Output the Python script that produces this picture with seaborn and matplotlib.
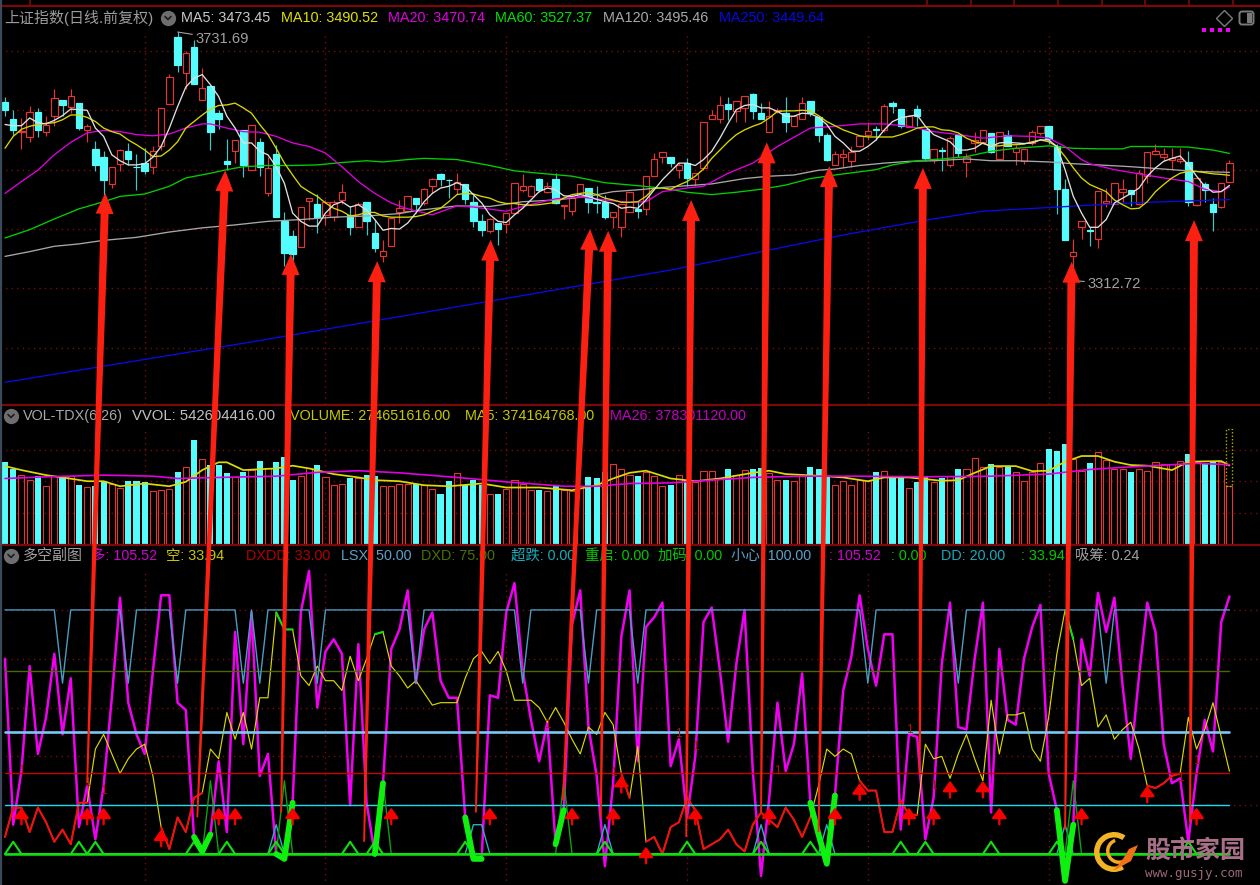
import numpy as np
import seaborn as sns
import matplotlib.pyplot as plt
from matplotlib.patches import Polygon, Wedge, Rectangle, FancyBboxPatch
from matplotlib.lines import Line2D
from matplotlib.transforms import IdentityTransform

# candles, oldest first
rise = ("ccrrcrrcrc" "rccrrcccrr" "rcrcrcccrc" "rcrcccrrcr" "rrcrccrrrr"
        "crrccrcccr" "crrrrcrcrr" "rcccrrrcrr" "rcrcrrrrcr" "rccrrcrrcc"
        "crrrrrcrcc" "rccrcrcrrr" "crcrrrrccc" "rrcrrrrcrr" "rrrrcrccrr")
body_top = [3614,3585,3565,3597,3597,3576,3620,3617,3624,3612,3574,3535,3522,3504,3533,3532,3505,3511,3532,3604,
            3656,3723,3696,3707,3637,3640,3595,3515,3550,3567,3576,3547,3503,3526,3414,3389,3437,3452,3443,3446,
            3445,3462,3424,3443,3446,3393,3363,3418,3435,3456,3452,3467,3484,3493,3483,3480,3476,3446,3413,3417,
            3410,3427,3477,3473,3473,3484,3472,3484,3441,3452,3476,3469,3446,3446,3428,3443,3462,3434,3490,3518,
            3530,3521,3507,3511,3495,3580,3592,3609,3610,3615,3624,3627,3595,3591,3601,3596,3590,3612,3615,3588,
            3559,3526,3526,3529,3557,3565,3569,3608,3612,3602,3591,3602,3568,3535,3533,3553,3558,3522,3550,3566,
            3562,3563,3559,3537,3535,3563,3574,3573,3539,3467,3361,3413,3399,3464,3448,3477,3467,3465,3494,3530,
            3532,3526,3519,3518,3513,3486,3476,3442,3477,3511]
body_bot = [3600,3566,3564,3555,3566,3563,3590,3609,3605,3570,3567,3507,3483,3476,3510,3518,3504,3497,3504,3539,
            3611,3676,3663,3645,3618,3564,3585,3510,3531,3507,3500,3505,3460,3421,3359,3358,3370,3447,3421,3424,
            3421,3449,3404,3404,3413,3368,3354,3372,3428,3431,3443,3444,3472,3485,3482,3467,3450,3413,3399,3396,
            3400,3409,3427,3465,3455,3465,3462,3444,3438,3430,3455,3446,3444,3420,3421,3404,3428,3431,3434,3489,
            3521,3512,3500,3486,3484,3503,3586,3586,3602,3598,3604,3598,3586,3564,3598,3581,3574,3585,3595,3559,
            3517,3507,3521,3514,3539,3558,3567,3567,3608,3574,3572,3590,3519,3517,3531,3507,3528,3513,3545,3546,
            3529,3518,3540,3529,3515,3545,3562,3551,3468,3382,3354,3403,3397,3384,3444,3443,3462,3459,3443,3489,
            3527,3522,3517,3514,3446,3440,3465,3428,3437,3480]
high = [3622,3600,3587,3608,3604,3590,3636,3617,3636,3612,3577,3549,3532,3505,3535,3545,3527,3536,3540,3604,
        3661,3732,3699,3718,3671,3643,3601,3551,3550,3567,3576,3553,3522,3542,3429,3399,3437,3452,3459,3449,
        3449,3476,3439,3445,3446,3416,3381,3418,3449,3456,3452,3469,3486,3495,3484,3494,3476,3458,3426,3418,
        3410,3427,3477,3493,3475,3486,3480,3495,3441,3458,3476,3469,3472,3458,3428,3443,3462,3448,3490,3528,
        3530,3521,3511,3519,3495,3580,3601,3624,3622,3615,3624,3629,3612,3615,3604,3622,3592,3622,3615,3588,
        3562,3532,3535,3539,3557,3581,3573,3611,3615,3602,3592,3609,3568,3535,3538,3556,3559,3528,3564,3566,
        3562,3563,3566,3542,3535,3567,3574,3573,3544,3484,3383,3413,3404,3464,3469,3477,3484,3465,3500,3530,
        3544,3536,3536,3536,3532,3486,3480,3452,3477,3517]
low = [3591,3559,3535,3546,3555,3557,3574,3590,3595,3566,3547,3497,3458,3469,3497,3508,3466,3493,3493,3533,
       3611,3665,3636,3645,3618,3533,3568,3500,3512,3487,3500,3489,3456,3421,3337,3348,3370,3416,3394,3407,
       3413,3443,3390,3404,3390,3362,3345,3372,3411,3430,3427,3441,3460,3472,3452,3459,3443,3403,3388,3393,
       3373,3394,3427,3463,3455,3462,3460,3443,3417,3424,3455,3427,3427,3417,3402,3386,3428,3418,3424,3489,
       3512,3505,3486,3472,3472,3500,3586,3579,3584,3581,3581,3585,3586,3563,3595,3564,3573,3585,3590,3547,
       3514,3507,3503,3505,3538,3550,3550,3564,3596,3570,3572,3574,3515,3511,3497,3505,3522,3487,3529,3545,
       3528,3517,3539,3507,3510,3542,3559,3544,3426,3382,3313,3383,3371,3368,3437,3443,3446,3439,3441,3478,
       3525,3514,3501,3511,3438,3438,3446,3396,3436,3480]

ma5 = [3576,3574,3574,3587,3579,3577,3583,3591,3602,3601,3600,3570,3556,3525,3515,3508,3508,3510,3521,3539,
       3570,3606,3639,3654,3660,3643,3623,3590,3570,3545,3545,3531,3525,3505,3477,3427,3413,3405,3405,3427,
       3441,3446,3437,3441,3432,3416,3398,3401,3400,3410,3427,3446,3460,3469,3472,3478,3472,3458,3444,3424,
       3413,3411,3424,3435,3449,3463,3469,3466,3456,3455,3458,3455,3450,3446,3443,3435,3437,3435,3449,3466,
       3483,3497,3511,3511,3507,3517,3531,3553,3578,3601,3608,3610,3604,3604,3598,3590,3590,3595,3594,3588,
       3576,3556,3545,3531,3531,3539,3550,3567,3581,3587,3590,3592,3573,3559,3553,3547,3533,3533,3536,3545,
       3539,3545,3546,3545,3544,3545,3550,3550,3539,3500,3455,3427,3403,3403,3416,3444,3452,3460,3469,3489,
       3503,3514,3519,3523,3508,3489,3472,3462,3463,3473.45]
ma10 = [3536,3556,3568,3573,3576,3578,3579,3584,3592,3592,3588,3581,3570,3564,3560,3550,3542,3533,3522,3523,
        3533,3547,3570,3581,3592,3602,3608,3609,3612,3604,3595,3576,3559,3536,3511,3491,3472,3463,3455,3444,
        3435,3430,3422,3424,3428,3428,3422,3420,3420,3420,3421,3424,3430,3435,3446,3458,3460,3459,3455,3452,
        3446,3443,3443,3441,3440,3441,3443,3445,3452,3458,3460,3462,3458,3452,3449,3445,3445,3446,3455,3469,
        3469,3467,3474,3480,3489,3501,3519,3533,3547,3559,3567,3573,3578,3587,3598,3599,3599,3600,3599,3591,
        3581,3574,3567,3562,3557,3555,3555,3555,3555,3559,3564,3570,3572,3572,3567,3566,3562,3553,3547,3544,
        3540,3540,3542,3542,3543,3547,3550,3547,3539,3522,3503,3486,3475,3469,3463,3449,3441,3434,3435,3446,
        3463,3475,3486,3494,3497,3497,3495,3493,3492,3490.52]
ma20_idx = [0,2,4,6,8,10,12,14,16,18,20,22,24,25,27,29,31,33,35,37,39,41,43,45,47,49,52,55,57,61,63,67,70,73,76,78,
            80,83,85,88,91,94,98,101,104,107,110,113,116,119,122,125,127,129,131,132,135,138,141,144,146,148,149]
ma20 = [3460,3480,3499,3525,3546,3562,3566,3564,3559,3557,3560,3570,3577,3577,3570,3564,3563,3556,3545,3539,3528,
        3505,3480,3460,3444,3434,3424,3439,3437,3430,3438,3451,3454,3449,3445,3446,3463,3469,3472,3494,3511,3539,
        3570,3573,3577,3577,3573,3564,3559,3553,3557,3556,3553,3539,3517,3510,3500,3493,3486,3480,3467,3463,3470.74]
ma60_idx = [0,3,6,9,12,14,17,20,22,25,27,29,32,35,38,41,44,46,49,51,55,59,62,65,69,73,77,80,83,86,89,92,95,98,101,
            106,108,111,114,117,120,123,127,130,133,136,137,140,144,147,149]
ma60 = [3385,3399,3417,3434,3446,3455,3459,3472,3486,3494,3500,3505,3507,3507,3508,3512,3515,3513,3517,3519,3517,
        3507,3498,3494,3489,3478,3473,3469,3462,3458,3462,3467,3474,3485,3491,3500,3508,3515,3518,3522,3531,3536,
        3540,3536,3535,3535,3539,3539,3538,3533,3527.37]
ma120_idx = [0,3,6,9,12,16,20,24,28,32,36,40,44,48,50,55,59,63,67,71,74,77,80,83,86,90,93,96,99,101,104,107,110,113,
             117,120,123,127,130,133,137,141,145,149]
ma120 = [3354,3362,3371,3375,3381,3386,3395,3402,3407,3413,3416,3420,3422,3426,3431,3439,3438,3446,3449,3455,3463,
         3466,3470,3473,3476,3485,3489,3491,3499,3501,3507,3511,3514,3515,3518,3515,3515,3513,3510,3508,3505,3501,
         3497,3495.46]
ma250_idx = [0,30,60,81,102,112,119,128,137,149]
ma250 = [3142,3210,3281,3331,3390,3415,3430,3437,3444,3449.64]
grid_prices = [3200,3300,3400,3500,3600,3700]
month_idx = [17,39,61,83,105,127]

# volume in millions
volume = [392,357,330,307,323,275,323,323,323,283,272,277,299,285,269,301,301,293,253,259,264,344,365,493,403,376,374,
          336,317,344,352,397,360,392,416,307,323,360,374,317,282,288,314,315,331,325,275,275,288,288,288,280,264,240,
          301,336,280,307,280,240,240,264,304,288,259,259,253,275,259,253,269,320,312,344,381,355,328,323,344,323,275,
          282,330,304,296,349,349,312,355,328,352,355,360,339,307,307,301,323,368,355,323,282,301,282,307,299,344,349,
          317,314,269,296,320,296,314,323,355,355,408,365,379,365,368,341,299,341,384,451,445,475,403,349,384,437,400,
          355,355,344,355,349,389,381,381,395,427,392,381,392,392,275]
vol_ma5_idx = [0,2,5,7,10,12,14,17,20,22,24,26,27,29,33,35,37,40,43,45,48,51,54,58,61,65,69,72,74,76,78,81,84,87,91,93,
               95,99,102,105,107,110,114,116,118,120,123,125,127,129,131,133,135,137,139,142,144,148,149]
vol_ma5 = [371,352,328,317,299,299,275,288,275,296,352,389,389,352,360,373,360,333,317,304,299,280,275,288,269,269,256,
           280,312,339,349,312,299,312,339,349,333,325,317,299,317,317,301,304,339,371,371,347,349,392,419,419,392,376,
           373,352,392,395,374]
vol_ma26_idx = [0,5,12,18,21,26,33,38,43,48,55,61,68,72,76,81,91,97,104,112,120,127,132,136,145,149]
vol_ma26 = [312,320,328,323,312,317,323,341,349,339,317,296,275,275,288,291,317,323,323,320,323,333,355,365,384,378]
vol_grid = [150,300,450]
vol_forecast_height = 272

# lower panel
duo = [80,12,34,77,41,56,82,49,72,11,28,6,28,64,105,62,49,41,75,106,106,62,59,7,1,8,38,9,91,45,99,32,41,0,-2,21,99,116,
       60,83,88,82,20,86,21,0,29,84,92,108,70,92,99,71,64,64,15,-2,-2,65,64,99,111,75,55,38,54,4,18,94,108,52,32,-5,29,
       89,108,38,93,97,103,36,47,15,40,95,101,75,46,78,100,34,-9,23,62,34,45,74,21,8,-4,24,67,81,106,84,69,90,90,10,49,
       48,6,23,78,103,52,51,80,103,17,84,55,53,80,93,102,33,18,-11,12,88,73,107,91,105,69,39,73,103,91,45,29,31,5,33,55,
       42,95,105.52]
kong = [7,19,19,9,19,13,5,10,4,21,21,43,49,41,33,39,43,45,32,11,2,15,9,23,25,43,39,58,47,58,43,64,64,99,92,92,73,69,77,
        71,71,67,81,71,80,90,91,77,73,68,71,66,61,62,62,62,72,80,83,78,83,75,63,63,63,60,54,60,54,47,41,52,49,58,53,33,
        23,44,5,7,0,11,13,23,18,2,4,6,10,4,1,12,17,14,11,19,14,7,15,28,43,40,43,41,30,26,26,9,9,22,16,16,45,39,40,31,41,
        49,39,30,63,41,57,57,58,43,38,56,82,100,88,69,72,52,57,47,51,54,43,28,27,29,32,33,56,43,51,62,48,33.94]
kong_red = [(0,10),(19,24),(75,76),(78,98),(104,111),(139,143)]
kong_green = [(33,35),(45,46),(129,130)]
duo_green = [(23,25),(33,35),(45,46),(56,58),(67,68),(98,101),(128,130)]
xiaoxin_dips = [7,15,21,29,31,38,50,63,71,77,105,116,134]
xiaoxin_top, xiaoxin_low = 100, 70
chaodie_idx = [33,57,58,73,92,100,129]
chaodie_val = 12
dd_small = [1,9,11,23,27,33,42,45,56,73,83,92,98,109,112,120,128,144]
dd_small_val = 5
dd_tall = [25,34,46,68,130]
dd_tall_val = 30
levels = {'dxd': 75, 'lsx': 50, 'dxdd': 33, 'dd': 20}
sub_grid = [20,40,60,80,100]
arrow_idx = [2,10,12,19,26,28,35,47,59,69,74,75,78,84,93,101,104,110,113,115,119,121,131,139,145]
arrow_val = [19,19,19,10,19,19,19,19,19,19,19,32,3,19,19,19,29,19,19,30,30,19,19,28,19]
one_idx = [2,10,12,66,74,82,84,94,110,113,143,145]
one_val = [34,29,26,53,33,49,44,34,51,28,31,38]

# hand drawn arrows: tip on the candles, tail on the lower panel
hand_tip_idx = [12.2,26.8,34.8,45.3,59.1,71.2,73.4,83.5,92.7,100.3,111.7,129.8,144.7]
hand_tip_price = [3461,3499,3358,3346,3382,3400,3397,3449,3546,3506,3503,3345,3415]
hand_tail_idx = [10,23.4,33.6,43.7,57.3,67.9,72.5,82.9,92,99,111.3,129,144.2]
hand_tail_val = [29,15,17,5,17,22,15,7,17,9,33,10,13]

BG = '#000000'
RED = '#e43434'
CYAN = '#54fcfc'
GRID = '#7a0c0c'
SEP = '#7c0808'
W, H = 1260, 885

sns.set_theme(style='dark', rc={'figure.facecolor': BG, 'axes.facecolor': BG, 'savefig.facecolor': BG})
plt.rcParams['font.family'] = ['Liberation Sans', 'Noto Sans CJK SC', 'DejaVu Sans']

fig = plt.figure(figsize=(W / 100, H / 100), dpi=100)


def panel(top, bottom):
    ax = fig.add_axes([0, 1 - bottom / H, 1, (bottom - top) / H])
    ax.set_xticks([])
    ax.set_yticks([])
    for s in ax.spines.values():
        s.set_visible(False)
    return ax


def line(ax, xs, ys, color, lw, z=3):
    sns.lineplot(x=list(xs), y=list(ys), color=color, linewidth=lw, ax=ax, estimator=None,
                 sort=False, legend=False, zorder=z)


def dotted_grid(ax, ys, x_top, x_bottom):
    for y in ys:
        ax.axhline(y, color=GRID, lw=1, ls=(0, (1, 3)), zorder=1)
    ax.vlines(month_idx, x_bottom, x_top, color=GRID, lw=1, ls=(0, (1, 3)), zorder=1)


n = len(rise)
idx = np.arange(n)
is_up = np.array([c == 'r' for c in rise])

# price panel
ax1 = panel(6, 404)
dotted_grid(ax1, grid_prices, 3732, 3105)
for i in idx:
    ax1.vlines(i, low[i], high[i], color=RED if is_up[i] else '#3cc8cc', lw=0.85, zorder=2)
    ax1.add_patch(Rectangle((i - 0.39, body_bot[i]), 0.78, body_top[i] - body_bot[i], lw=0.85, zorder=2.5,
                            edgecolor=RED if is_up[i] else CYAN, facecolor=BG if is_up[i] else CYAN))
line(ax1, ma250_idx, ma250, '#0a0ae6', 0.95)
line(ax1, ma120_idx, ma120, '#a8a8a8', 0.95)
line(ax1, ma60_idx, ma60, '#00d000', 0.95)
line(ax1, ma20_idx, ma20, '#e000e0', 0.95)
line(ax1, idx, ma10, '#d8d800', 0.95)
line(ax1, idx, ma5, '#e0e0e0', 0.95)
ax1.set_xlim(-0.608, 152.72)
ax1.set_ylim(3105.5, 3775.5)
ax1.annotate('3731.69', xy=(21, 3731.69), xytext=(13, -5), textcoords='offset points', color='#a0a0a0', fontsize=10.6,
             va='center', arrowprops=dict(arrowstyle='-', color='#a0a0a0', lw=0.8, shrinkA=0, shrinkB=0))
ax1.annotate('3312.72', xy=(130.4, 3312.72), xytext=(8, -2), textcoords='offset points', color='#a0a0a0', fontsize=10.6,
             va='center', arrowprops=dict(arrowstyle='-', color='#a0a0a0', lw=0.8, shrinkA=0, shrinkB=0))

# volume panel
ax2 = panel(405, 544)
dotted_grid(ax2, vol_grid, 542, 0)
vol = np.array(volume)
sns.barplot(x=idx[~is_up], y=vol[~is_up], native_scale=True, color=CYAN, saturation=1, width=0.74, ax=ax2, zorder=2,
            edgecolor=CYAN, linewidth=0)
sns.barplot(x=idx[is_up], y=vol[is_up], native_scale=True, fill=False, color=RED, saturation=1, width=0.74,
            linewidth=0.8, ax=ax2, zorder=2)
ax2.add_patch(Rectangle((n - 1.37, vol[-1]), 0.74, vol_forecast_height, fill=False, edgecolor='#b0b000', lw=1,
                        ls=(0, (1, 1.5)), zorder=3))
line(ax2, vol_ma5_idx, vol_ma5, '#dcdc00', 1.25, 4)
line(ax2, vol_ma26_idx, vol_ma26, '#e000e0', 1.2, 4)
ax2.set_xlim(-0.608, 152.72)
ax2.set_ylim(0, 662)
ax2.set_xticks([])
ax2.set_yticks([])
ax2.set_xlabel('')
ax2.set_ylabel('')

# lower panel
ax3 = panel(545, 885)
dotted_grid(ax3, sub_grid, 116, -13)
duo = np.array(duo, dtype=float)
kong = np.array(kong, dtype=float)
line(ax3, idx, duo, '#f000f0', 1.8, 3)
line(ax3, idx, kong, '#d8d800', 0.85, 3.1)
for a, b in kong_red:
    line(ax3, idx[a:b + 1], kong[a:b + 1], '#f01010', 1.5, 3.2)
for a, b in kong_green:
    line(ax3, idx[a:b + 1], kong[a:b + 1], '#10e010', 1.5, 3.2)
line(ax3, [0, n - 1], [levels['dxdd']] * 2, '#c80000', 1.0, 3.3)
line(ax3, [0, n - 1], [levels['lsx']] * 2, '#78c8f4', 1.9, 3.3)
line(ax3, [0, n - 1], [levels['dxd']] * 2, '#4a6a00', 1.0, 3.3)
line(ax3, [0, n - 1], [levels['dd']] * 2, '#10e0f0', 1.0, 3.3)
xx = np.full(n, float(xiaoxin_top))
xx[xiaoxin_dips] = xiaoxin_low
line(ax3, idx, xx, '#4a9cc4', 1.0, 3.4)
cd = np.zeros(n)
cd[chaodie_idx] = chaodie_val
line(ax3, idx, cd, '#2ab0c0', 1.0, 3.5)
tall = np.zeros(n)
tall[dd_tall] = dd_tall_val
line(ax3, idx, tall, '#10a010', 1.0, 3.6)
small = np.zeros(n)
small[dd_small] = dd_small_val
line(ax3, idx, small, '#10e010', 1.5, 3.7)
line(ax3, [0, n - 1], [0, 0], '#10e010', 1.8, 3.8)
for a, b in duo_green:
    line(ax3, idx[a:b + 1], duo[a:b + 1], '#10f010', 4.2, 4)
for i, v in zip(arrow_idx, arrow_val):
    ax3.annotate('', xy=(i, v), xytext=(0, -12), textcoords=('offset points'),
                 arrowprops=dict(arrowstyle='-|>,head_width=0.4,head_length=0.55', color='#f80000', lw=1.7,
                                 mutation_scale=11, shrinkA=0, shrinkB=0), zorder=5)
for i, v in zip(one_idx, one_val):
    ax3.text(i, v, '1', color='#b01010', fontsize=8.5, ha='center', va='center', zorder=5)
ax3.set_xlim(-0.608, 152.72)
ax3.set_ylim(-12.7, 126.6)

# panel frames
for y in [5.5, 404.5, 544.5]:
    fig.add_artist(Line2D([0, 1], [1 - y / H] * 2, color=SEP, lw=1.6))
fig.add_artist(Line2D([1 / W] * 2, [0, 1], color='#3a4a5a', lw=1.6))
fig.add_artist(Line2D([30 / W] * 2, [1 - 5 / H, 1], color=SEP, lw=1.2))
for x in [927, 971, 1014, 1058, 1102, 1145, 1189, 1233]:
    fig.add_artist(Line2D([x / W] * 2, [1 - 5 / H, 1], color=SEP, lw=1.2))


def label(x, y, s, color, size=10.4):
    fig.text(x / W, 1 - y / H, s, color=color, fontsize=size, va='center', ha='left')


def chevron(x, y):
    fig.add_artist(Line2D([x / W], [1 - y / H], marker='o', ms=11, color='#6e6e6e', mew=0))
    fig.add_artist(Line2D([(x - 3) / W, x / W, (x + 3) / W], [1 - (y - 1.5) / H, 1 - (y + 1.5) / H, 1 - (y - 1.5) / H],
                          color='#1c1c1c', lw=1.2))


DARKCYAN = '#18a8b8'
GREEN = '#00c800'
BLUEGRAY = '#5aa0c8'
chevron(168, 18)
chevron(11, 416)
chevron(11, 556)
label(4, 18, '上证指数(日线.前复权)', '#9c9c9c', 10.8)
label(181, 18, 'MA5: 3473.45', '#c8c8c8')
label(281, 18, 'MA10: 3490.52', '#e0e000')
label(388, 18, 'MA20: 3470.74', '#e000e0')
label(495, 18, 'MA60: 3527.37', '#00e000')
label(603, 18, 'MA120: 3495.46', '#a8a8a8')
label(719, 18, 'MA250: 3449.64', '#0808e0')
label(23, 416, 'VOL-TDX(6,26)', '#a8a8a8')
label(132, 416, 'VVOL: 542604416.00', '#c0c0c0', 10.7)
label(290, 416, 'VOLUME: 274651616.00', '#c8c800')
label(465, 416, 'MA5: 374164768.00', '#c8c800')
label(610, 416, 'MA26: 378301120.00', '#c000c0')
label(23, 556, '多空副图', '#a0a0a0', 10.8)
label(91, 556, '多: 105.52', '#d000d0')
label(166, 556, '空: 33.94', '#c8c800')
label(246, 556, 'DXDD: 33.00', '#b00000')
label(341, 556, 'LSX: 50.00', BLUEGRAY)
label(421, 556, 'DXD: 75.00', '#4a7000')
label(511, 556, '超跌: 0.00', DARKCYAN)
label(585, 556, '重启: 0.00', GREEN)
label(658, 556, '加码: 0.00', GREEN)
label(731, 556, '小心: 100.00', BLUEGRAY)
label(829, 556, ': 105.52', '#d000d0')
label(891, 556, ': 0.00', GREEN)
label(941, 556, 'DD: 20.00', DARKCYAN)
label(1021, 556, ': 33.94', GREEN)
label(1075, 556, '吸筹: 0.24', '#a0a0a0')

# top right icons
fig.add_artist(Line2D([1224 / W], [1 - 18 / H], marker='D', ms=8.5, mfc='none', mec='#7a7a7a', mew=1))
fig.add_artist(FancyBboxPatch((1241, H - 23), 11, 10, boxstyle='round,pad=1.5,rounding_size=2.5', fill=False,
                              edgecolor='#7a7a7a', lw=1.4, transform=IdentityTransform()))
fig.add_artist(Rectangle((1247, H - 23), 5, 10, facecolor='#7a7a7a', edgecolor='none', transform=IdentityTransform()))
fig.add_artist(Line2D([x / W for x in (1204, 1212, 1220, 1228)], [1 - 29.5 / H] * 4, ls='', marker='s', ms=2.6,
                      color='#f000f0', mew=0))

# the hand drawn red arrows sit above all panels
fig.canvas.draw()
for ti, tp, bi, bv in zip(hand_tip_idx, hand_tip_price, hand_tail_idx, hand_tail_val):
    tip = ax1.transData.transform((ti, tp))
    tail = ax3.transData.transform((bi, bv))
    d = tip - tail
    d = d / np.hypot(*d)
    nrm = np.array([-d[1], d[0]])
    neck = tip - d * 21
    pts = [tip, neck + nrm * 9, neck + nrm * 4, tail + nrm * 0.9, tail - nrm * 0.9, neck - nrm * 4, neck - nrm * 9]
    fig.add_artist(Polygon(pts, closed=True, facecolor='#fb2012', edgecolor='none', transform=IdentityTransform(),
                           zorder=20))

# site logo
logo = [Wedge((1114, H - 852), 20, 55, 300, width=5.5, facecolor='#f2b424'),
        Wedge((1119, H - 851), 13, 110, 340, width=3.5, facecolor='#f6a820'),
        Polygon([(1138, H - 845), (1131, H - 861), (1113, H - 871), (1123, H - 859), (1129, H - 849)],
                facecolor='#f07018')]
for p in logo:
    p.set_transform(IdentityTransform())
    p.set_edgecolor('none')
    p.set_zorder(21)
    fig.add_artist(p)
fig.text(1145 / W, 1 - 851 / H, '股市家园', color='#a87088', fontsize=18, fontweight='bold', va='center',
         family=['Noto Sans CJK SC', 'DejaVu Sans'], zorder=21)
fig.text(1145 / W, 1 - 873 / H, 'www.gusjy.com', color='#a06878', fontsize=9, va='center',
         family=['DejaVu Sans Mono'], zorder=21)

fig.savefig('out.png', dpi=100)
